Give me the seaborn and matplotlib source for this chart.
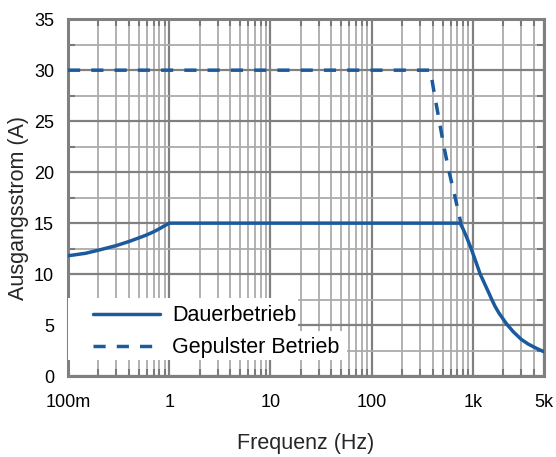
import numpy as np
import pandas as pd
import matplotlib
matplotlib.use("Agg")
import matplotlib.pyplot as plt
import seaborn as sns
from matplotlib.patches import Rectangle
from matplotlib.ticker import FixedLocator, NullFormatter, LogLocator, MultipleLocator

# Data
cont_freq = [0.1, 0.15, 0.2, 0.3, 0.4, 0.5, 0.6, 0.7, 0.8, 0.9, 1.0,
             748, 800, 850, 900, 960, 1000, 1100, 1178, 1260, 1350, 1450, 1535,
             1650, 1800, 2000, 2153, 2500, 3000, 3500, 4000, 4500, 5000]
cont_amp = [11.8, 12.05, 12.35, 12.8, 13.2, 13.55, 13.85, 14.15, 14.45, 14.75, 15.0,
            15.0, 14.4, 13.8, 13.2, 12.5, 12.0, 10.85, 10.0, 9.37, 8.72, 8.05, 7.5,
            6.85, 6.2, 5.55, 5.1, 4.35, 3.6, 3.15, 2.85, 2.6, 2.4]
puls_freq = [0.1, 379, 418, 465, 516, 582, 667, 760]
puls_amp = [30.0, 30.0, 27.5, 25.0, 22.5, 20.0, 17.5, 15.0]
xtick_vals = [0.1, 1, 10, 100, 1000, 5000]
xtick_labels = ["100m", "1", "10", "100", "1k", "5k"]
ytick_vals = [0, 5, 10, 15, 20, 25, 30, 35]
series_names = ["Dauerbetrieb", "Gepulster Betrieb"]

sns.set_style("white")
plt.rcParams['font.family'] = ['Liberation Sans', 'DejaVu Sans']

fig = plt.figure(figsize=(5.56, 4.57), dpi=100)
ax = fig.add_axes([0.1223, 0.177, 0.978 - 0.1223, 0.958 - 0.177])

color = "#1b5a9c"
df_c = pd.DataFrame({"f": cont_freq, "I": cont_amp})
df_p = pd.DataFrame({"f": puls_freq, "I": puls_amp})

sns.lineplot(data=df_c, x="f", y="I", ax=ax, color=color, linewidth=2.5,
             label=series_names[0], zorder=4)
sns.lineplot(data=df_p, x="f", y="I", ax=ax, color=color, linewidth=2.5,
             linestyle=(0, (3.5, 3.2)), label=series_names[1], zorder=4)

ax.set_xscale("log")
ax.set_xlim(0.1, 5000)
ax.set_ylim(0, 35)

ax.xaxis.set_major_locator(FixedLocator(xtick_vals))
ax.set_xticks(xtick_vals)
ax.set_xticklabels(xtick_labels)
ax.xaxis.set_minor_locator(LogLocator(base=10, subs=np.arange(2, 10), numticks=20))
ax.xaxis.set_minor_formatter(NullFormatter())
ax.set_yticks(ytick_vals)
ax.yaxis.set_minor_locator(MultipleLocator(2.5))

ax.grid(which="major", color="#808080", linewidth=1.6, zorder=1)
ax.grid(which="minor", color="#ababab", linewidth=1.3, zorder=1)
ax.set_axisbelow(True)

ax.tick_params(which="major", length=0, labelsize=13, colors="#000000")
ax.tick_params(axis="x", which="major", pad=13)
ax.tick_params(axis="y", which="major", pad=10)
ax.tick_params(which="minor", direction="in", length=5, width=1.5, color="#7a7a7a",
               top=True, right=True, bottom=True, left=True)

for s in ax.spines.values():
    s.set_color("#808080")
    s.set_linewidth(2.2)

ax.set_xlabel("Frequenz (Hz)", fontsize=15.5)
ax.set_ylabel("Ausgangsstrom (A)", fontsize=15.5)
ax.xaxis.set_label_coords(0.5, -0.16)
ax.yaxis.set_label_coords(-0.082, 0.47)

# white backgrounds behind the legend rows (as in the reference)
ax.add_patch(Rectangle((0.0, 0.126), 0.484, 0.094, transform=ax.transAxes,
                       facecolor="white", edgecolor="none", zorder=3))
ax.add_patch(Rectangle((0.0, 0.045), 0.586, 0.082, transform=ax.transAxes,
                       facecolor="white", edgecolor="none", zorder=3))

leg = ax.legend(loc="lower left", bbox_to_anchor=(0.042, 0.035), fontsize=15.5,
                frameon=False, handlelength=3.1, handletextpad=0.56,
                borderpad=0.25, labelspacing=0.5, borderaxespad=0.0)
leg.set_zorder(5)
for t in leg.get_texts():
    t.set_color("#000000")

fig.savefig("out.png", dpi=100)
